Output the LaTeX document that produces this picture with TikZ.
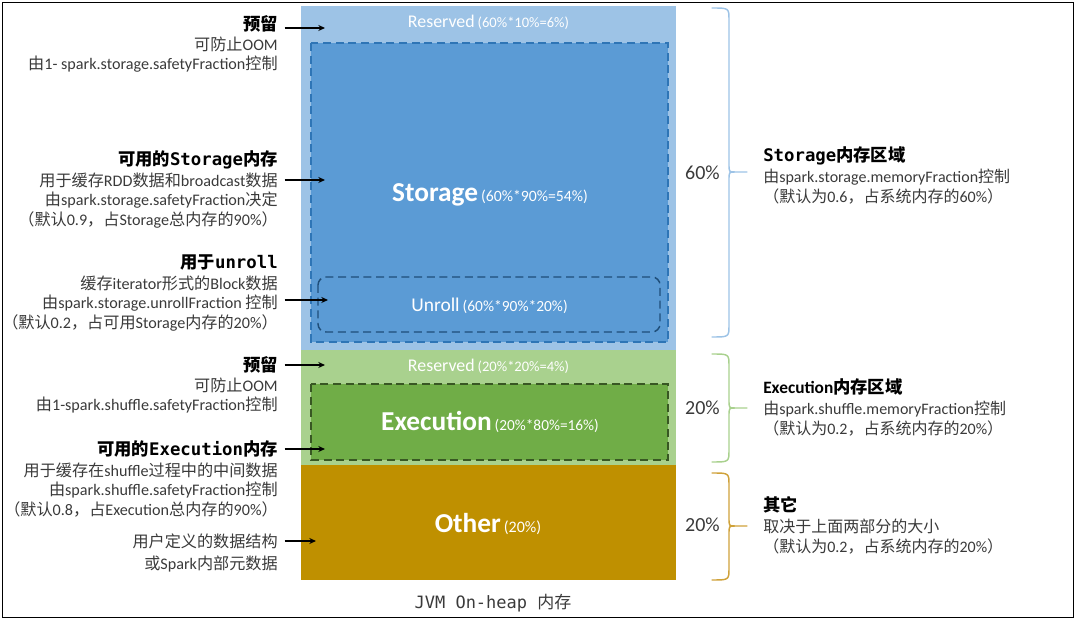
\documentclass[tikz,border=0pt]{standalone}
\usepackage{fontspec}
\setmainfont{Carlito}
\newfontfamily\cjk{Noto Sans CJK SC}
\newfontfamily\mono{DejaVu Sans Mono}
\usetikzlibrary{arrows.meta}
\newcount\cjkcnt
\newXeTeXintercharclass\cjkcls
\def\setcjkrange#1#2{\cjkcnt=#1\relax
  \loop \XeTeXcharclass\cjkcnt=\cjkcls
  \ifnum\cjkcnt<#2\relax \advance\cjkcnt by 1 \repeat}
\setcjkrange{"4E00}{"9FFF}
\setcjkrange{"3000}{"303F}
\setcjkrange{"FF00}{"FFEF}
\XeTeXinterchartoks 0 \cjkcls = {\begingroup\cjk}
\XeTeXinterchartoks 4095 \cjkcls = {\begingroup\cjk}
\XeTeXinterchartoks \cjkcls 0 = {\endgroup}
\XeTeXinterchartoks \cjkcls 4095 = {\endgroup}
\XeTeXinterchartokenstate=1
\definecolor{lblue}{HTML}{9DC3E6}
\definecolor{sblue}{HTML}{5B9BD5}
\definecolor{dblue}{HTML}{2E75B6}
\definecolor{ublue}{HTML}{1F4E79}
\definecolor{lgreen}{HTML}{A9D18E}
\definecolor{egreen}{HTML}{70AD47}
\definecolor{dgreen}{HTML}{385723}
\definecolor{gold}{HTML}{BF9000}
\definecolor{braceg}{HTML}{CFA23A}
\definecolor{txt}{HTML}{3A3A3A}
\newcommand\ttl[1]{{\fontsize{13}{14.5}\selectfont\bfseries\color{black}#1}}
\newcommand\mlat[1]{{\mono #1}}
\tikzset{
  body/.style={font=\fontsize{12.1}{14.5}\selectfont, text=txt, inner sep=0pt},
  lblock/.style={body, align=right, anchor=north east},
  rblock/.style={body, align=left, anchor=north west, font=\fontsize{12}{15}\selectfont},
  arr/.style={line width=1.1pt, -{Stealth[length=5pt,width=4.5pt]}},
  dashbox/.style={line width=1.1pt, dash pattern=on 6pt off 3.5pt},
  inlab/.style={text=white, inner sep=0pt, anchor=base},
  pct/.style={font=\fontsize{15}{15}\selectfont, text=txt, inner sep=0pt},
  bracel/.style={line width=1.1pt, line cap=round}
}
\begin{document}
\begin{tikzpicture}[x=0.75pt,y=-0.75pt]
\useasboundingbox (0,0) rectangle (1076,620);
\draw[line width=1.1pt] (2.5,2.5) rectangle (1073.5,617.5);
% column
\fill[lblue] (301,6) rectangle (676,350);
\fill[lgreen] (301,350) rectangle (676,465);
\fill[gold] (301,465) rectangle (676,580);
\filldraw[fill=sblue, draw=dblue, dashbox] (311,43) rectangle (668,342);
\draw[draw=ublue, dashbox, rounded corners=6pt] (318,277) rectangle (660,332);
\filldraw[fill=egreen, draw=dgreen, dashbox] (311,384) rectangle (668,460);
% labels in column
\node[inlab] (res1) at (488.5,27.3) {{\fontsize{13.4}{14}\selectfont Reserved} {\fontsize{10.9}{12}\selectfont(60\%*10\%=6\%)}};
\node[inlab] (sto) at (490,201.7) {{\fontsize{20.5}{22}\selectfont\bfseries Storage} {\fontsize{11.8}{12}\selectfont(60\%*90\%=54\%)}};
\node[inlab] (unr) at (489.5,312) {{\fontsize{14.6}{15}\selectfont Unroll} {\fontsize{11.6}{12}\selectfont(60\%*90\%*20\%)}};
\node[inlab] (res2) at (488.5,372) {{\fontsize{13.4}{14}\selectfont Reserved} {\fontsize{10.9}{12}\selectfont(20\%*20\%=4\%)}};
\node[inlab] (exe) at (490,430.7) {{\fontsize{20.5}{22}\selectfont\bfseries Execution} {\fontsize{11.5}{12}\selectfont(20\%*80\%=16\%)}};
\node[inlab] (oth) at (488,532.7) {{\fontsize{20.5}{22}\selectfont\bfseries Other} {\fontsize{12}{12}\selectfont(20\%)}};
\node[anchor=base, inner sep=0pt, text=txt, font=\mono\fontsize{12.75}{14}\selectfont] (jvm) at (493,609) {JVM On-heap 内存};
% left texts
\node[lblock] (l1) at (278,15) {\ttl{预留}\\[0.5pt]可防止OOM\\由1- spark.storage.safetyFraction控制};
\node[lblock] (l2) at (278,150) {\ttl{可用的\mlat{Storage}内存}\\[1.5pt]用于缓存RDD数据和broadcast数据\\由spark.storage.safetyFraction决定\\（默认0.9，占Storage总内存的90\%）};
\node[lblock] (l3) at (278,254) {\ttl{用于\mlat{unroll}}\\[1.5pt]缓存iterator形式的Block数据\\由spark.storage.unrollFraction 控制\\（默认0.2，占可用Storage内存的20\%）};
\node[lblock] (l4) at (278,356) {\ttl{预留}\\[0.5pt]可防止OOM\\由1-spark.shuffle.safetyFraction控制};
\node[lblock] (l5) at (278,440) {\ttl{可用的\mlat{Execution}内存}\\[1.5pt]用于缓存在shuffle过程中的中间数据\\由spark.shuffle.safetyFraction控制\\（默认0.8，占Execution总内存的90\%）};
\node[lblock] (l6) at (278,534) {用户定义的数据结构\\[1.5pt]或Spark内部元数据};
% arrows
\coordinate (a1) at (325,28);
\coordinate (a2) at (325,180);
\coordinate (a3) at (328,300);
\coordinate (a4) at (325,365);
\coordinate (a5) at (325,449);
\coordinate (a6) at (316,541);
\draw[arr] ([xshift=5pt]l1.east |- a1) -- (a1);
\draw[arr] ([xshift=5pt]l2.east |- a2) -- (a2);
\draw[arr] ([xshift=5pt]l3.east |- a3) -- (a3);
\draw[arr] ([xshift=5pt]l4.east |- a4) -- (a4);
\draw[arr] ([xshift=5pt]l5.east |- a5) -- (a5);
\draw[arr] ([xshift=5pt]l6.east |- a6) -- (a6);
% braces
\draw[bracel, lblue] (712,8) .. controls (729,8) .. (729,20) -- (729,164) .. controls (729,172) .. (735,172) -- (747,172)
  (747,172) -- (735,172) .. controls (729,172) .. (729,180) -- (729,325) .. controls (729,337) .. (712,337);
\draw[bracel, lgreen] (712,354) .. controls (729,354) .. (729,366) -- (729,400) .. controls (729,408) .. (735,408) -- (747,408)
  (747,408) -- (735,408) .. controls (729,408) .. (729,416) -- (729,450) .. controls (729,462) .. (712,462);
\draw[bracel, braceg] (712,473) .. controls (729,473) .. (729,485) -- (729,518) .. controls (729,526) .. (735,526) -- (747,526)
  (747,526) -- (735,526) .. controls (729,526) .. (729,534) -- (729,568) .. controls (729,580) .. (712,580);
\node[pct] (p1) at (702.5,173) {60\%};
\node[pct] (p2) at (702.5,408) {20\%};
\node[pct] (p3) at (702.5,525) {20\%};
% right texts
\node[rblock] (r1) at (763,146) {\ttl{\mlat{Storage}内存区域}\\[1pt]由spark.storage.memoryFraction控制\\（默认为0.6，占系统内存的60\%）};
\node[rblock] (r2) at (763,378) {\ttl{Execution内存区域}\\[1pt]由spark.shuffle.memoryFraction控制\\（默认为0.2，占系统内存的20\%）};
\node[rblock] (r3) at (763,496) {\ttl{其它}\\[1pt]取决于上面两部分的大小\\（默认为0.2，占系统内存的20\%）};
\end{tikzpicture}
\end{document}
